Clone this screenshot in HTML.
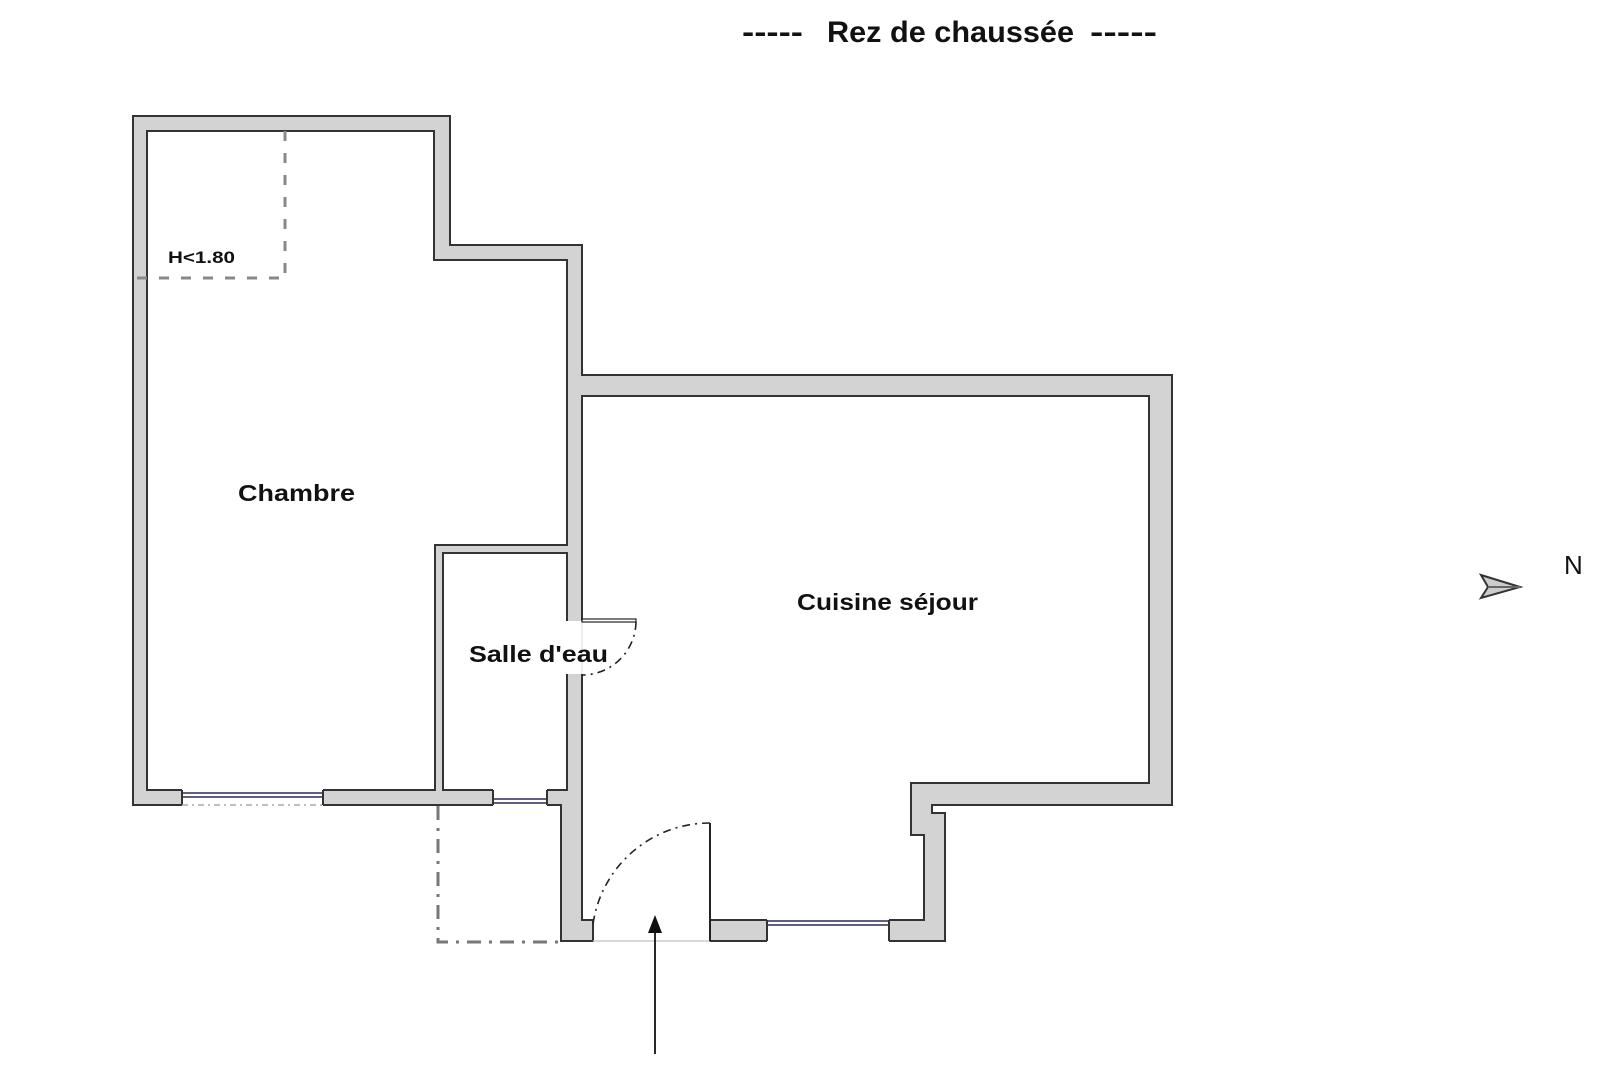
<!DOCTYPE html>
<html><head><meta charset="utf-8"><style>html,body{margin:0;padding:0;background:#fff}svg{display:block}</style></head>
<body>
<svg width="1600" height="1077" viewBox="0 0 1600 1077" xmlns="http://www.w3.org/2000/svg" font-family="Liberation Sans, sans-serif">
<rect width="1600" height="1077" fill="#fff"/>
<!-- title -->
<g font-weight="bold" fill="#111" font-size="30">
<text x="742" y="42" textLength="61" lengthAdjust="spacingAndGlyphs">-----</text>
<text x="827" y="42" textLength="247" lengthAdjust="spacingAndGlyphs">Rez de chaussée</text>
<text x="1090" y="42" textLength="67" lengthAdjust="spacingAndGlyphs">-----</text>
</g>
<!-- walls -->
<polygon points="133,116 450,116 450,245 582,245 582,375 1172,375 1172,805 932,805 932,813 945,813 945,941 710,941 710,920 593,920 593,941 561,941 561,805 133,805" fill="#d3d3d3" stroke="#333" stroke-width="2"/>
<g fill="#fff" stroke="#333" stroke-width="2">
<polygon points="147,131 434,131 434,260 567,260 567,545 435,545 435,790 147,790"/>
<polygon points="443,553 567,553 567,790 443,790"/>
<polygon points="582,396 1149,396 1149,783 911,783 911,835 924,835 924,920 710,920 710,941 593,941 593,920 582,920"/>
</g>
<!-- entrance gap cleanup -->
<rect x="594" y="919" width="115" height="24" fill="#fff"/>
<line x1="593" y1="941" x2="710" y2="941" stroke="#ccc" stroke-width="1.5"/>
<!-- salle door opening -->
<rect x="565" y="621" width="19" height="53" fill="#fff"/>
<line x1="582" y1="621" x2="582" y2="674" stroke="#ddd" stroke-width="1"/>
<rect x="582" y="619" width="54" height="3" fill="#fff" stroke="#222" stroke-width="1.2"/>
<path d="M636,622 A54,54 0 0 1 582,675" fill="none" stroke="#222" stroke-width="1.6" stroke-dasharray="8 5 2 5"/>
<!-- entrance door -->
<rect x="709" y="823" width="2" height="118" fill="#222"/>
<path d="M710,823 A118,118 0 0 0 593,924" fill="none" stroke="#222" stroke-width="1.6" stroke-dasharray="8 5 2 5"/>
<!-- windows -->
<g>
<rect x="182" y="789" width="141" height="17" fill="#fff"/>
<line x1="182" y1="793" x2="323" y2="793" stroke="#2a2a5a" stroke-width="1.5"/>
<line x1="182" y1="797" x2="323" y2="797" stroke="#2a2a5a" stroke-width="1.5"/>
<line x1="182" y1="790" x2="182" y2="805" stroke="#333" stroke-width="2"/>
<line x1="323" y1="790" x2="323" y2="805" stroke="#333" stroke-width="2"/>
<line x1="182" y1="805" x2="323" y2="805" stroke="#aaa" stroke-width="1.5" stroke-dasharray="6 4 2 4"/>
<rect x="493" y="789" width="54" height="17" fill="#fff"/>
<line x1="493" y1="799" x2="547" y2="799" stroke="#2a2a5a" stroke-width="1.5"/>
<line x1="493" y1="803" x2="547" y2="803" stroke="#2a2a5a" stroke-width="1.5"/>
<line x1="493" y1="790" x2="493" y2="805" stroke="#333" stroke-width="2"/>
<line x1="547" y1="790" x2="547" y2="805" stroke="#333" stroke-width="2"/>
<rect x="767" y="919" width="122" height="23" fill="#fff"/>
<line x1="767" y1="921" x2="889" y2="921" stroke="#2a2a5a" stroke-width="1.5"/>
<line x1="767" y1="925" x2="889" y2="925" stroke="#2a2a5a" stroke-width="1.5"/>
<line x1="767" y1="920" x2="767" y2="941" stroke="#333" stroke-width="2"/>
<line x1="889" y1="920" x2="889" y2="941" stroke="#333" stroke-width="2"/>
</g>
<!-- dashed lines -->
<path d="M285,131 V278 M137,278 H285" fill="none" stroke="#888" stroke-width="3" stroke-dasharray="10 12"/>
<path d="M438,806 V942 H561" fill="none" stroke="#777" stroke-width="3" stroke-dasharray="14 8 3 8"/>
<!-- labels -->
<g font-weight="bold" fill="#111">
<text x="168" y="263" font-size="17" textLength="67" lengthAdjust="spacingAndGlyphs">H&lt;1.80</text>
<text x="238" y="501" font-size="23" textLength="117" lengthAdjust="spacingAndGlyphs">Chambre</text>
<text x="797" y="610" font-size="23" textLength="181" lengthAdjust="spacingAndGlyphs">Cuisine séjour</text>
<text x="469" y="662" font-size="23" textLength="139" lengthAdjust="spacingAndGlyphs">Salle d'eau</text>
</g>
<!-- entrance arrow -->
<line x1="655" y1="1054" x2="655" y2="932" stroke="#111" stroke-width="1.8"/>
<polygon points="655,915 648,933 662,933" fill="#111"/>
<!-- north -->
<polygon points="1481,575 1520,587 1481,598 1488,587" fill="#ccc" stroke="#333" stroke-width="2"/>
<line x1="1488" y1="587" x2="1520" y2="587" stroke="#666" stroke-width="2"/>
<text x="1564" y="574" font-size="26" fill="#111">N</text>
</svg>
</body></html>
